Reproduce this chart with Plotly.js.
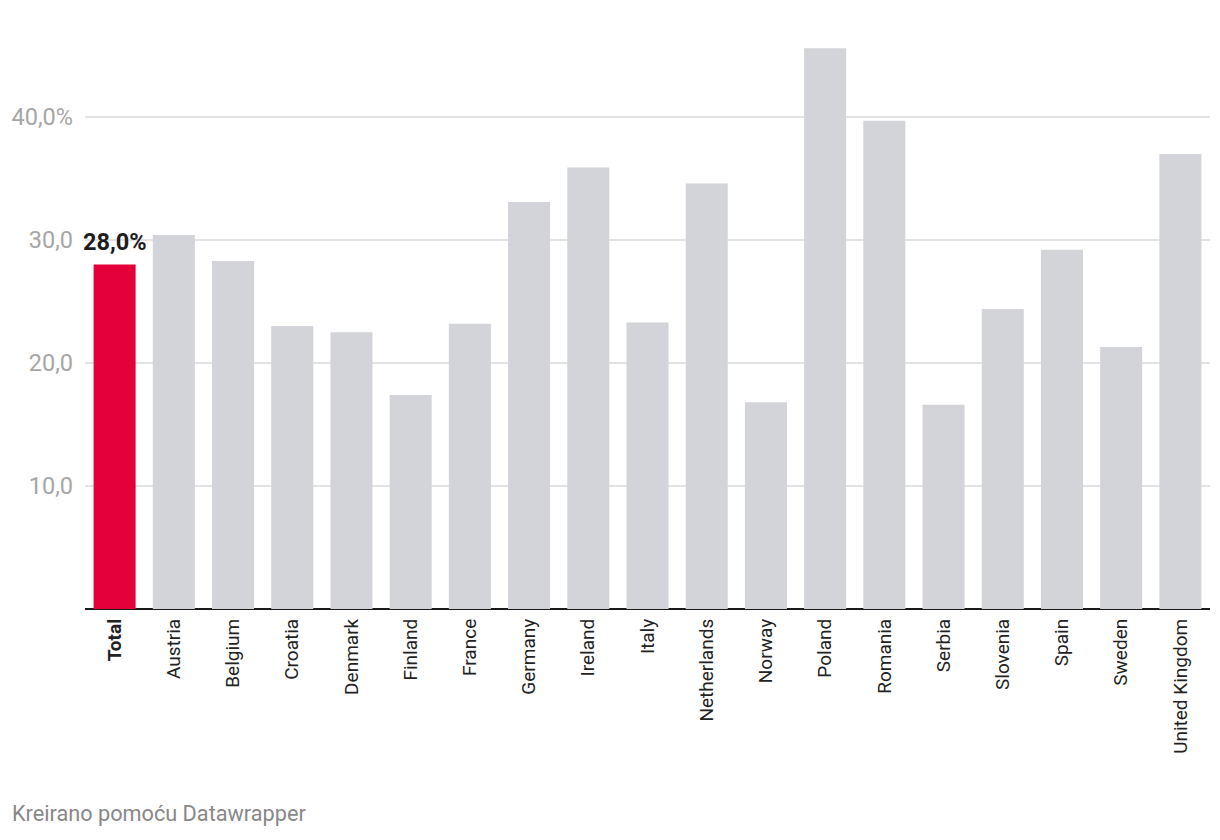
<!DOCTYPE html>
<html>
<head>
<meta charset="utf-8">
<script src="https://cdn.plot.ly/plotly-3.0.1.min.js"></script>
<style>html,body{margin:0;padding:0;background:#fff;}</style>
</head>
<body>
<div id="chart" style="width:1220px;height:840px;"></div>
<script>
const categories = ["Total","Austria","Belgium","Croatia","Denmark","Finland","France","Germany","Ireland","Italy","Netherlands","Norway","Poland","Romania","Serbia","Slovenia","Spain","Sweden","United Kingdom"];
const values = [28.0,30.4,28.3,23.0,22.5,17.4,23.2,33.1,35.9,23.3,34.6,16.8,45.6,39.7,16.6,24.4,29.2,21.3,37.0];
const tickVals = [10,20,30,40];
const tickText = ["10,0","20,0","30,0","40,0%"];
const highlightLabel = "28,0%";
const footer = "Kreirano pomoću Datawrapper";

const colors = categories.map(c => c === "Total" ? "#e4003a" : "#d3d4d9");
const xTickText = categories.map(c => c === "Total" ? "<b>Total</b>" : c);

const trace = {
  type: "bar",
  x: categories,
  y: values,
  marker: {color: colors, line: {width: 0}},
  hoverinfo: "x+y"
};

const layout = {
  width: 1220, height: 840,
  margin: {l: 85, r: 10, t: 19, b: 231, autoexpand: false},
  paper_bgcolor: "#fff", plot_bgcolor: "#fff",
  font: {family: "Roboto, sans-serif"},
  bargap: 0.29,
  showlegend: false,
  xaxis: {
    type: "category",
    range: [-0.5, categories.length - 0.5],
    tickvals: categories,
    ticktext: xTickText,
    tickangle: -90,
    tickfont: {size: 19, color: "#222"},
    ticklabelstandoff: 5,
    automargin: false,
    showgrid: false,
    showline: false,
    ticks: "",
    zeroline: false,
    fixedrange: true
  },
  yaxis: {
    range: [0, 47.97],
    tickvals: tickVals,
    ticktext: tickText,
    tickfont: {size: 23.5, color: "#a6a6a6"},
    ticks: "",
    ticklabelstandoff: 11,
    automargin: false,
    showgrid: true,
    gridcolor: "#e3e3e3",
    gridwidth: 2,
    zeroline: true,
    zerolinecolor: "#1a1a1a",
    zerolinewidth: 2,
    showline: false,
    fixedrange: true
  },
  annotations: [
    {
      x: categories[0], y: values[0], xref: "x", yref: "y",
      text: "<b>" + highlightLabel + "</b>",
      showarrow: false, yanchor: "bottom", yshift: 7,
      font: {size: 23.5, color: "#1d1d1d", family: "Roboto, sans-serif"}
    },
    {
      x: -0.0667, y: -0.347, xref: "paper", yref: "paper",
      xanchor: "left", yanchor: "middle",
      text: footer, showarrow: false,
      font: {size: 21.7, color: "#888888", family: "Roboto, sans-serif"}
    }
  ]
};

Plotly.newPlot("chart", [trace], layout, {displayModeBar: false, staticPlot: true});
</script>
</body>
</html>
